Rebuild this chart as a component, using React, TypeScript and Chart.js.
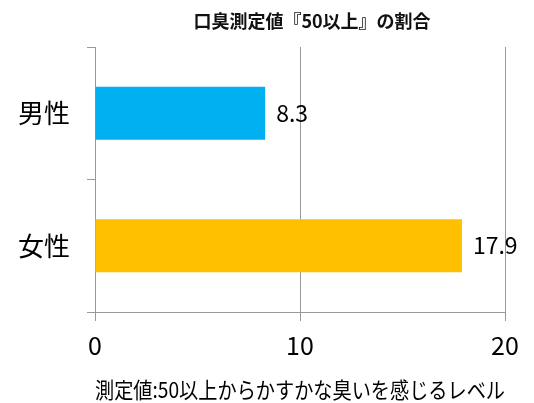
import React, { useEffect, useRef } from "react";
import { Chart, registerables } from "chart.js";

Chart.register(...registerables);

const chartTitle = "口臭測定値『50以上』の割合";
const axisTitle = "測定値:50以上からかすかな臭いを感じるレベル";
const categories = ["男性", "女性"];
const values = [8.3, 17.9];
const barColors = ["#00B0F0", "#FFC000"];
const xTicks = [0, 10, 20];

const FONT = "'Noto Sans CJK JP', 'Noto Sans', sans-serif";

const titlePlugin = {
  id: "customTitle",
  afterDraw(chart: any) {
    const ctx = chart.ctx;
    ctx.save();
    ctx.font = `bold 18px ${FONT}`;
    ctx.fillStyle = "#111";
    ctx.textAlign = "center";
    ctx.textBaseline = "middle";
    ctx.fillText(chartTitle, 312, 21);
    ctx.restore();
  },
};

const valueLabelPlugin = {
  id: "valueLabels",
  afterDatasetsDraw(chart: any) {
    const ctx = chart.ctx;
    const meta = chart.getDatasetMeta(0);
    ctx.save();
    ctx.font = `23px ${FONT}`;
    ctx.fillStyle = "#000";
    ctx.textAlign = "left";
    ctx.textBaseline = "middle";
    meta.data.forEach((bar: any, i: number) => {
      ctx.fillText(String(values[i]), bar.x + 11, bar.y);
    });
    ctx.restore();
  },
};

export default function App() {
  const ref = useRef<HTMLCanvasElement | null>(null);
  useEffect(() => {
    document.body.style.margin = "0";
    if (!ref.current) return;
    const chart = new Chart(ref.current, {
      type: "bar",
      data: {
        labels: categories,
        datasets: [
          {
            data: values,
            backgroundColor: barColors,
            borderWidth: 0,
            categoryPercentage: 1,
            barPercentage: 0.4,
          },
        ],
      },
      options: {
        indexAxis: "y",
        responsive: false,
        animation: false,
        layout: { padding: { top: 47, right: 29, left: 0, bottom: 0 } },
        plugins: {
          legend: { display: false },
          title: { display: false },
          tooltip: { enabled: false },
        },
        scales: {
          x: {
            min: 0,
            max: 20,
            afterBuildTicks: (scale: any) => {
              scale.ticks = xTicks.map((v) => ({ value: v }));
            },
            afterFit: (scale: any) => {
              scale.height = 91;
            },
            grid: {
              color: "#999",
              lineWidth: 1,
              drawTicks: true,
              tickLength: 9,
            },
            border: { display: true, color: "#999" },
            ticks: {
              font: { family: FONT, size: 25 },
              color: "#000",
              padding: 9,
            },
            title: {
              display: true,
              text: axisTitle,
              font: { family: FONT, size: 22 },
              color: "#000",
              padding: { top: 0, bottom: 0 },
            },
          },
          y: {
            type: "category",
            offset: true,
            afterFit: (scale: any) => {
              scale.width = 95;
            },
            grid: {
              offset: true,
              drawOnChartArea: false,
              drawTicks: true,
              tickLength: 8,
              color: "#999",
            },
            border: { display: true, color: "#999" },
            ticks: {
              font: { family: FONT, size: 26 },
              color: "#000",
              padding: 17,
            },
          },
        },
      },
      plugins: [titlePlugin, valueLabelPlugin],
    } as any);
    return () => chart.destroy();
  }, []);
  return (
    <canvas
      ref={ref}
      width={534}
      height={403}
      style={{ display: "block", width: 534, height: 403 }}
    />
  );
}
